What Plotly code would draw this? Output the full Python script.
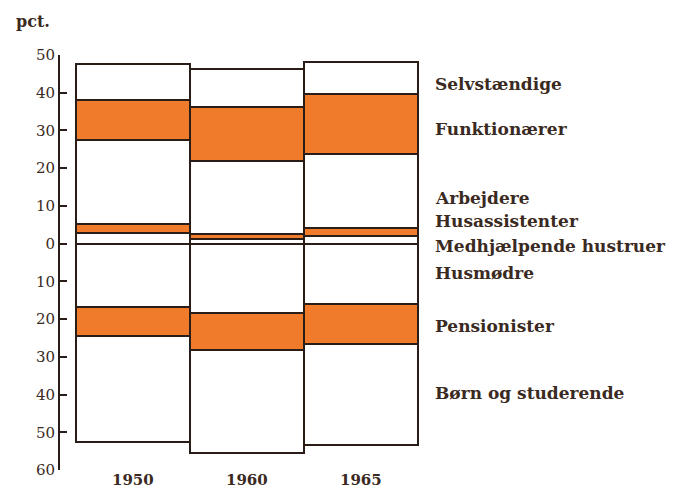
import plotly.graph_objects as go

years = ['1950', '1960', '1965']

# pct. of population, above zero (stacked upward from 0)
medhjaelpende = [2.8, 1.1, 2.0]
husassistenter = [2.5, 1.5, 2.2]
arbejdere = [22.2, 19.4, 19.5]
funktionaerer = [10.5, 14.2, 16.0]
selvstaendige = [9.7, 10.0, 8.4]

# below zero (stacked downward from 0)
husmoedre = [16.9, 18.4, 15.9]
pensionister = [7.5, 9.7, 10.7]
boern = [28.3, 27.3, 26.8]

orange = '#ef7b2b'
edge = '#2a1c17'
txt = '#3a2a22'
font = 'DejaVu Serif'

series_up = [
    ('Medhjælpende hustruer', medhjaelpende, 'white'),
    ('Husassistenter', husassistenter, orange),
    ('Arbejdere', arbejdere, 'white'),
    ('Funktionærer', funktionaerer, orange),
    ('Selvstændige', selvstaendige, 'white'),
]
series_down = [
    ('Husmødre', husmoedre, 'white'),
    ('Pensionister', pensionister, orange),
    ('Børn og studerende', boern, 'white'),
]

fig = go.Figure()
for name, vals, col in series_up:
    fig.add_trace(go.Bar(x=[0, 1, 2], y=vals, name=name,
                         marker=dict(color=col, line=dict(color=edge, width=2))))
for name, vals, col in series_down:
    fig.add_trace(go.Bar(x=[0, 1, 2], y=[-v for v in vals], name=name,
                         marker=dict(color=col, line=dict(color=edge, width=2))))

# labels on the right, placed by eye next to the bars
label_names = ['Selvstændige', 'Funktionærer', 'Arbejdere', 'Husassistenter',
               'Medhjælpende hustruer', 'Husmødre', 'Pensionister', 'Børn og studerende']
label_y = [42.2, 30.5, 12.1, 5.9, -0.7, -7.7, -21.8, -39.7]
for name, y in zip(label_names, label_y):
    fig.add_annotation(x=1.03, xref='paper', y=y, yref='y', text='<b>' + name + '</b>',
                       showarrow=False, xanchor='left', yanchor='middle',
                       font=dict(family=font, size=17, color=txt))

# year labels under the bars
for i, yr in enumerate(years):
    fig.add_annotation(x=i, xref='x', y=-0.024, yref='paper', text='<b>' + yr + '</b>',
                       showarrow=False, xanchor='center', yanchor='middle',
                       font=dict(family=font, size=15, color=txt))

fig.add_annotation(x=-0.127, xref='paper', y=1.08, yref='paper', text='<b>pct.</b>',
                   showarrow=False, xanchor='left', yanchor='middle',
                   font=dict(family=font, size=16, color=txt))

tickvals = list(range(-60, 51, 10))
fig.update_layout(
    width=670, height=482,
    barmode='relative', bargap=0,
    showlegend=False,
    template='none',
    paper_bgcolor='white', plot_bgcolor='white',
    margin=dict(l=52, r=256, t=47, b=20),
    xaxis=dict(range=[-0.64, 2.535], showticklabels=False,
               showline=False, showgrid=False, zeroline=False, ticks='',
               automargin=False),
    yaxis=dict(range=[-60, 50], tickvals=tickvals,
               ticktext=[str(abs(v)) for v in tickvals],
               showline=True, linecolor=edge, linewidth=2,
               ticks='inside', ticklen=7, tickwidth=2, tickcolor=edge,
               showgrid=False, zeroline=False,
               tickfont=dict(family=font, size=15, color=txt), automargin=False),
)

fig.write_html("out.html")
